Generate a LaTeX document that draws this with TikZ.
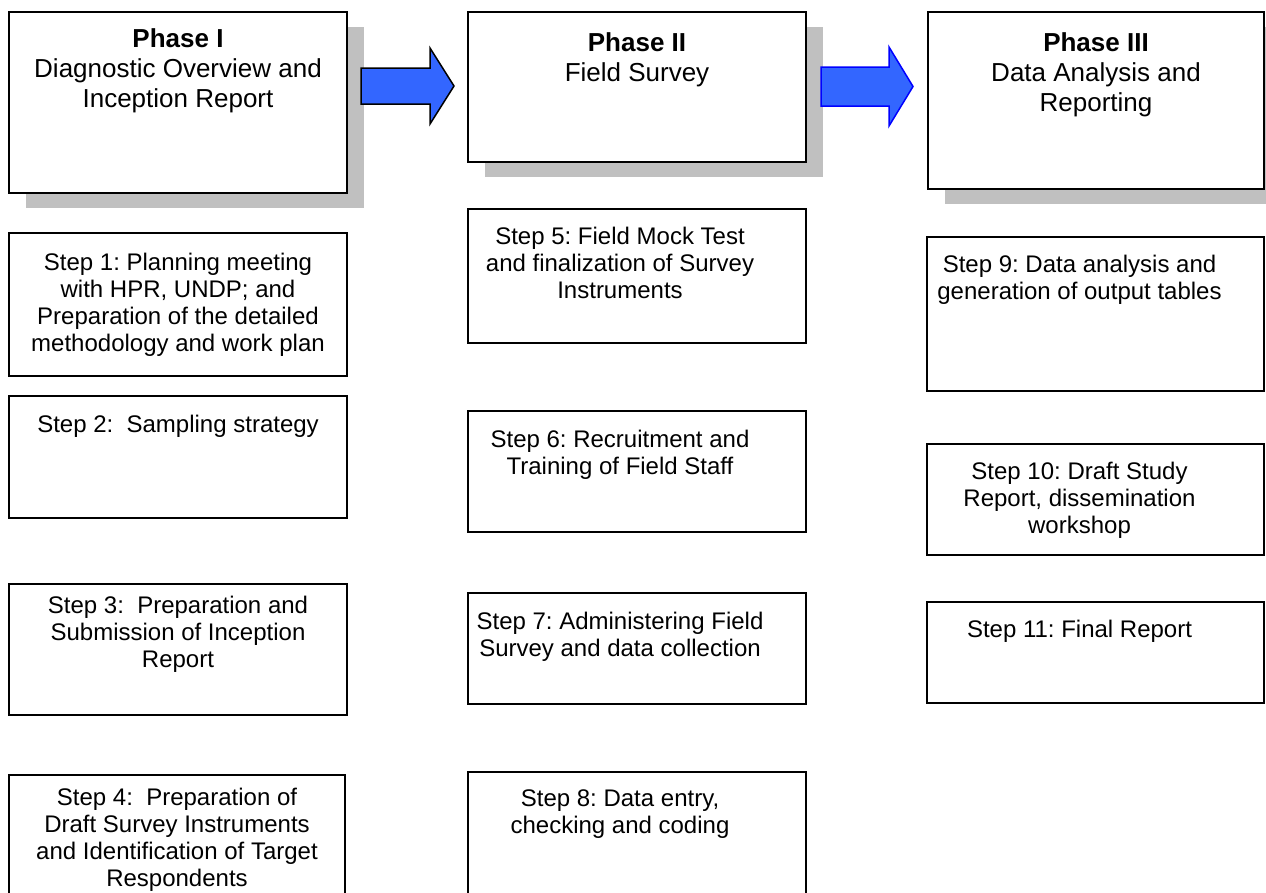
\documentclass[tikz,border=0pt]{standalone}
\usepackage{fontspec}
\setmainfont{Liberation Sans}
\usepackage{tikz}
\usetikzlibrary{positioning,shadows}
\frenchspacing

\definecolor{shadowgray}{HTML}{C0C0C0}
\definecolor{arrowblue}{HTML}{3366FF}

\tikzset{
	box/.style={draw=black, line width=1.5pt, fill=white, anchor=north west,
		inner sep=0pt, outer sep=0pt},
	phasebox/.style={box, drop shadow={opacity=1, fill=shadowgray,
		shadow xshift=16.5pt, shadow yshift=-15pt}},
	phasetext/.style={align=center, inner sep=0pt, font=\fontsize{26}{30}\selectfont},
	steptext/.style={align=center, inner sep=0pt, font=\fontsize{24}{27}\selectfont},
	blockarrow/.style={fill=arrowblue, line width=1.5pt, line join=miter}
}

\begin{document}
\begin{tikzpicture}[x=1pt, y=-1pt]
	\useasboundingbox (0,0) rectangle (1266,892);

	% phases
	\node[phasebox, minimum width=338pt, minimum height=181pt] (p1) at (9,12) {};
	\node[phasebox, minimum width=338pt, minimum height=150pt] (p2) at (468,12) {};
	\node[phasebox, minimum width=336pt, minimum height=177pt] (p3) at (928,12) {};
	\node[phasetext, below=16pt of p1.north] (p1t) {\textbf{Phase I}\\Diagnostic Overview and\\Inception Report};
	\node[phasetext, below=20pt of p2.north] (p2t) {\textbf{Phase II}\\Field Survey};
	\node[phasetext, below=20pt of p3.north] (p3t) {\textbf{Phase III}\\Data Analysis and\\Reporting};

	% arrows between phases
	\draw[blockarrow, draw=black] (361,68) -- (430,68) -- (430,48) -- (454,86)
		-- (430,124) -- (430,104) -- (361,104) -- cycle;
	\draw[blockarrow, draw=blue] (821,67) -- (889,67) -- (889,47) -- (913,86.5)
		-- (889,126) -- (889,106) -- (821,106) -- cycle;

	% phase I steps
	\node[box, minimum width=338pt, minimum height=143pt] (s1) at (9,233) {};
	\node[box, minimum width=338pt, minimum height=122pt] (s2) at (9,396) {};
	\node[box, minimum width=338pt, minimum height=131pt] (s3) at (9,584) {};
	\node[box, minimum width=336pt, minimum height=140pt] (s4) at (9,775) {};
	\node[steptext, below=20pt of s1.north] (s1t) {Step 1: Planning meeting\\with HPR, UNDP; and\\Preparation of the detailed\\methodology and work plan};
	\node[steptext, below=19pt of s2.north] (s2t) {Step 2: \ Sampling strategy};
	\node[steptext, below=12pt of s3.north] (s3t) {Step 3: \ Preparation and\\Submission of Inception\\Report};
	\node[steptext, below=13pt of s4.north] (s4t) {Step 4: \ Preparation of\\Draft Survey Instruments\\and Identification of Target\\Respondents};

	% phase II steps
	\node[box, minimum width=338pt, minimum height=134pt] (s5) at (468,209) {};
	\node[box, minimum width=338pt, minimum height=121pt] (s6) at (468,411) {};
	\node[box, minimum width=338pt, minimum height=111pt] (s7) at (468,593) {};
	\node[box, minimum width=338pt, minimum height=140pt] (s8) at (468,772) {};
	\node[steptext, below=18pt of s5.north, xshift=-17pt] (s5t) {Step 5: Field Mock Test\\and finalization of Survey\\Instruments};
	\node[steptext, below=19pt of s6.north, xshift=-17pt] (s6t) {Step 6: Recruitment and\\Training of Field Staff};
	\node[steptext, below=19pt of s7.north, xshift=-17pt] (s7t) {Step 7: Administering Field\\Survey and data collection};
	\node[steptext, below=18pt of s8.north, xshift=-17pt] (s8t) {Step 8: Data entry,\\checking and coding};

	% phase III steps
	\node[box, minimum width=337pt, minimum height=154pt] (s9) at (927,237) {};
	\node[box, minimum width=337pt, minimum height=111pt] (s10) at (927,444) {};
	\node[box, minimum width=337pt, minimum height=101pt] (s11) at (927,602) {};
	\node[steptext, below=18pt of s9.north, xshift=-16pt] (s9t) {Step 9: Data analysis and\\generation of output tables};
	\node[steptext, below=18pt of s10.north, xshift=-16pt] (s10t) {Step 10: Draft Study\\Report, dissemination\\workshop};
	\node[steptext, below=18pt of s11.north, xshift=-16pt] (s11t) {Step 11: Final Report};
\end{tikzpicture}
\end{document}
